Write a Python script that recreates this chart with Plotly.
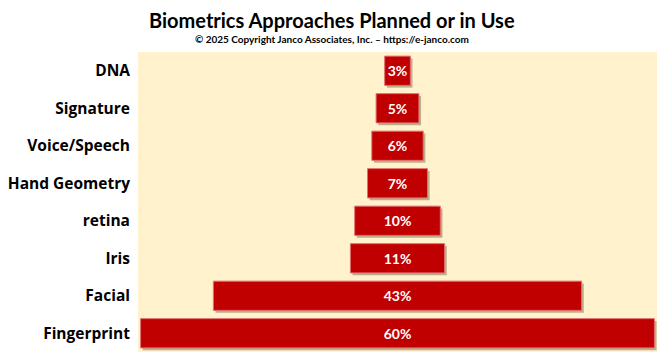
import plotly.graph_objects as go

categories = ["DNA", "Signature", "Voice/Speech", "Hand Geometry", "retina", "Iris", "Facial", "Fingerprint"]
values = [3, 5, 6, 7, 10, 11, 43, 60]
labels = [f"{v}%" for v in values]

bar_w = 0.78
base = [-v / 2 for v in values]

# page body has an 8px margin: compensate
L, T, PW, PH = 130, 44, 519, 300

fig = go.Figure()
# shadow
fig.add_trace(go.Bar(
    y=categories, x=values, base=[b + 0.25 for b in base], orientation="h",
    width=bar_w, offset=-bar_w / 2 + 0.06,
    marker=dict(color="rgba(120,110,80,0.5)", line=dict(width=0)),
    hoverinfo="skip", showlegend=False,
))
fig.add_trace(go.Bar(
    y=categories, x=values, base=base, orientation="h",
    width=bar_w, offset=-bar_w / 2,
    marker=dict(color="#C00000", line=dict(color="#E07070", width=1)),
    text=labels, textposition="inside", insidetextanchor="middle",
    textfont=dict(family="Lato", size=14, color="white", weight="bold"),
    showlegend=False,
))

fig.update_layout(
    width=665, height=360,
    margin=dict(l=L, r=665 - L - PW, t=T, b=360 - T - PH, autoexpand=False),
    paper_bgcolor="white", plot_bgcolor="#FFF2CC",
    barmode="overlay",
    font=dict(family="Lato", color="black"),
    xaxis=dict(range=[-30.3, 30.3], visible=False, fixedrange=True),
    yaxis=dict(autorange="reversed", showgrid=False, zeroline=False, ticks="",
               automargin=False,
               tickfont=dict(family="Open Sans", size=15.5, color="black", weight="bold"),
               ticklabelstandoff=7),
    showlegend=False,
)
cx = (324 - L) / PW
fig.add_annotation(text="<b>Biometrics Approaches Planned or in Use</b>", xref="paper", yref="paper",
                   x=cx, y=1 + (T - 12) / PH, xanchor="center", yanchor="middle",
                   showarrow=False, font=dict(family="Lato", size=20, color="black"))
fig.add_annotation(text="<b>© 2025 Copyright Janco Associates, Inc. – https://e-janco.com</b>", xref="paper", yref="paper",
                   x=cx, y=1 + (T - 31) / PH, xanchor="center", yanchor="middle",
                   showarrow=False, font=dict(family="Lato", size=10, color="black"))

fig.write_html("out.html")
